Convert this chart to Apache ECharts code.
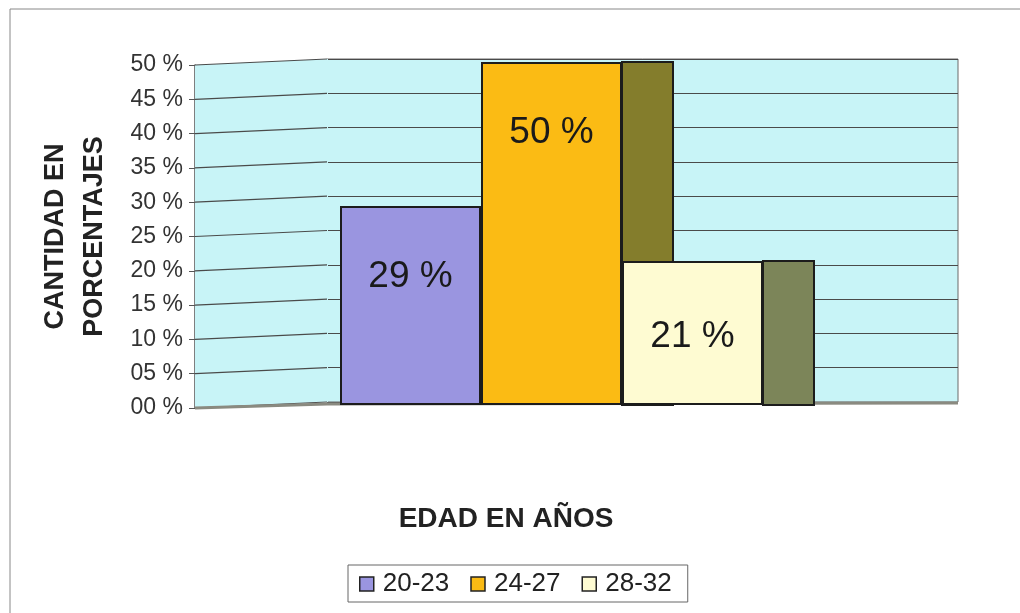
<!DOCTYPE html>
<html>
<head>
<meta charset="utf-8">
<script src="https://cdn.jsdelivr.net/npm/echarts@6/dist/echarts.min.js"></script>
<style>html,body{margin:0;padding:0;background:#fff;}#c{width:1020px;height:613px;}</style>
</head>
<body>
<div id="c"></div>
<script>
var seriesNames = ['20-23', '24-27', '28-32'];
var seriesValues = [29, 50, 21];
var category = ['EDAD EN AÑOS'];
var tickValues = [0, 5, 10, 15, 20, 25, 30, 35, 40, 45, 50];
var frontColors = ['#9a95e0', '#fbbb14', '#fefbd2'];
var sideColors = [null, '#847d2c', '#7c8559'];

var BAR_W = 141, SIDE_W = 51, DEPTH_X = 132, DEPTH_Y = 6;
var FONT = 'Liberation Sans, Arial, sans-serif';

var chart = echarts.init(document.getElementById('c'));

var barSeries = seriesNames.map(function (n, i) {
  var lbl = [
    { position: 'insideTop', distance: 52 },
    { position: 'insideTop', distance: 52 },
    { position: 'inside', offset: [0, 4] }
  ][i];
  return {
    name: n, type: 'bar', xAxisIndex: 2, yAxisIndex: 2, z: 3,
    barWidth: BAR_W, barGap: '0%',
    data: [seriesValues[i]],
    itemStyle: { color: frontColors[i], borderColor: '#1c1c1c', borderWidth: 2 },
    label: Object.assign({ show: true, formatter: '{c} %', fontSize: 37, color: '#1a1a1a', fontFamily: FONT }, lbl)
  };
});

var sideData = seriesValues.map(function (v, i) { return [i, v]; }).filter(function (d) { return sideColors[d[0]]; });

var option = {
  animation: false,
  backgroundColor: '#fff',
  textStyle: { fontFamily: FONT },
  title: {
    text: 'EDAD EN AÑOS', left: 501, top: 500, textAlign: 'center',
    textStyle: { fontSize: 28, fontWeight: 'bold', color: '#222', fontFamily: FONT }
  },
  legend: {
    data: seriesNames, left: 348, top: 565,
    borderColor: '#666', borderWidth: 1, padding: [6, 16, 5, 11],
    itemWidth: 14, itemHeight: 14, itemGap: 21, icon: 'rect',
    itemStyle: { borderColor: '#222', borderWidth: 1.5 },
    textStyle: { fontSize: 26, color: '#222', fontFamily: FONT, padding: [0, 0, 0, 4] }
  },
  grid: [
    { left: 327, right: 62, top: 59, bottom: 211, show: true, backgroundColor: '#c8f4f7', borderColor: '#6a6a6a', borderWidth: 1 },
    { left: 195, right: 693, top: 65, bottom: 205, show: false },
    { left: 195, right: 112, top: 62, bottom: 208 }
  ],
  xAxis: [
    { gridIndex: 0, type: 'value', min: 0, max: 1, show: false },
    { gridIndex: 1, type: 'value', min: 0, max: 1, show: false },
    { gridIndex: 2, type: 'category', data: category, show: false }
  ],
  yAxis: [
    { gridIndex: 0, type: 'value', min: 0, max: 50, interval: 5,
      axisLabel: { show: false }, axisLine: { show: false }, axisTick: { show: false },
      splitLine: { lineStyle: { color: '#4a4a4a', width: 1.2 } } },
    { gridIndex: 1, type: 'value', min: 0, max: 50, interval: 5,
      name: 'CANTIDAD EN\nPORCENTAJES', nameLocation: 'middle', nameRotate: 90, nameGap: 81,
      nameTextStyle: { fontSize: 27, fontWeight: 'bold', color: '#222', lineHeight: 39, fontFamily: FONT },
      axisLine: { show: true, lineStyle: { color: '#555', width: 1.5 } },
      axisTick: { show: true, length: 6, lineStyle: { color: '#555' } },
      splitLine: { show: false },
      axisLabel: { fontSize: 23, color: '#333', margin: 12, fontFamily: FONT,
        formatter: function (v) { return (v < 10 ? '0' : '') + v + ' %'; } } },
    { gridIndex: 2, type: 'value', min: 0, max: 50, show: false }
  ],
  series: [
    {
      type: 'custom', xAxisIndex: 0, yAxisIndex: 0, z: 1, clip: false, silent: true,
      data: tickValues,
      renderItem: function (params, api) {
        var v = api.value(0);
        var p = api.coord([0, v]);
        var children = [];
        if (v === 50) {
          var b = api.coord([0, 0]);
          children.push({
            type: 'polygon',
            shape: { points: [[p[0] - DEPTH_X, p[1] + DEPTH_Y], [p[0] + 1, p[1]], [b[0] + 1, b[1]], [b[0] - DEPTH_X, b[1] + DEPTH_Y]] },
            style: { fill: '#c8f4f7' }, z2: -1
          });
        }
        children.push({
          type: 'line',
          shape: { x1: p[0] - DEPTH_X, y1: p[1] + DEPTH_Y, x2: p[0], y2: p[1] },
          style: { stroke: '#4a4a4a', lineWidth: 1.2 }
        });
        if (v === 0) {
          var r = api.coord([1, 0]);
          children.push({
            type: 'polyline',
            shape: { points: [[p[0] - DEPTH_X, p[1] + DEPTH_Y], [p[0], p[1] + 2], [r[0], p[1] + 1]] },
            style: { stroke: '#8a8a80', lineWidth: 3, fill: null }
          });
        }
        return { type: 'group', children: children };
      }
    },
    {
      type: 'custom', xAxisIndex: 2, yAxisIndex: 2, z: 2, clip: false, silent: true,
      data: sideData,
      renderItem: function (params, api) {
        var idx = api.value(0), v = api.value(1);
        var top = api.coord([0, v]);
        var base = api.coord([0, 0]);
        var left = top[0] - 1.5 * BAR_W + idx * BAR_W;
        return {
          type: 'rect',
          shape: { x: left + BAR_W, y: top[1], width: SIDE_W, height: base[1] - top[1] },
          style: { fill: sideColors[idx], stroke: '#1c1c1c', lineWidth: 2 }
        };
      }
    }
  ].concat(barSeries),
  graphic: [
    { type: 'line', shape: { x1: 10, y1: 9, x2: 1020, y2: 9 }, style: { stroke: '#888', lineWidth: 1 } },
    { type: 'line', shape: { x1: 10, y1: 9, x2: 10, y2: 613 }, style: { stroke: '#888', lineWidth: 1 } }
  ]
};
chart.setOption(option);
</script>
</body>
</html>
